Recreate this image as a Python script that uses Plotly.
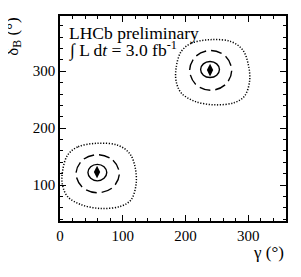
import plotly.graph_objects as go

# Contour points (gamma, delta_B) in degrees
left_dot_x = [59, 28, 12, 4, 4, 12, 33, 65, 97, 113, 121, 120, 111, 92, 59]
left_dot_y = [173.5, 167, 152.5, 124, 100, 80, 66, 59, 63, 74, 100, 129.5, 155.5, 170, 173.5]
right_dot_x = [240, 209, 193, 185, 185, 193, 214, 246, 278, 294, 302, 300, 291, 272.5, 240]
right_dot_y = [355.5, 349, 334.5, 306, 282.5, 262, 247.5, 241, 245, 256.5, 282.5, 311.5, 337.5, 352, 355.5]

left_dash_x = [60, 84.4, 94.5, 84.4, 60, 35.6, 25.5, 35.6, 60]
left_dash_y = [153.5, 143.7, 120, 96.3, 86.5, 96.3, 120, 143.7, 153.5]
right_dash_x = [240, 263.7, 273.5, 263.7, 240, 216.3, 206.5, 216.3, 240]
right_dash_y = [336.5, 326.2, 301.5, 276.8, 266.5, 276.8, 301.5, 326.2, 336.5]

left_solid_x = [59.5, 70.1, 74.5, 70.1, 59.5, 48.9, 44.5, 48.9, 59.5]
left_solid_y = [136.5, 132.1, 122, 111.9, 107.5, 111.9, 122, 132.1, 136.5]
right_solid_x = [239, 249.6, 254, 249.6, 239, 228.4, 224, 228.4, 239]
right_solid_y = [317, 312.9, 303, 293.1, 289, 293.1, 303, 312.9, 317]

best_x = [59, 239]
best_y = [123, 302]

x_range = [0, 360]
y_range = [37, 397]
x_ticks = [0, 100, 200, 300]
y_ticks = [100, 200, 300]

FONT = "Liberation Serif"

fig = go.Figure()

def add_curve(xs, ys, dash, width):
    fig.add_trace(go.Scatter(x=xs, y=ys, mode="lines",
                             line=dict(color="black", width=width, dash=dash, shape="spline", smoothing=1.0),
                             hoverinfo="skip", showlegend=False))

add_curve(left_dot_x, left_dot_y, "1.2px,1.6px", 1.5)
add_curve(right_dot_x, right_dot_y, "1.2px,1.6px", 1.5)
add_curve(left_dash_x, left_dash_y, "11px,5px", 1.4)
add_curve(right_dash_x, right_dash_y, "11px,5px", 1.4)
add_curve(left_solid_x, left_solid_y, "solid", 1.4)
add_curve(right_solid_x, right_solid_y, "solid", 1.4)

fig.add_trace(go.Scatter(x=best_x, y=best_y, mode="markers",
                         marker=dict(symbol="diamond-tall", size=9, color="black"),
                         showlegend=False, hoverinfo="skip"))

axis_common = dict(
    showgrid=False, zeroline=False,
    showline=True, linecolor="black", linewidth=1.5, mirror="ticks",
    ticks="inside", ticklen=6, tickwidth=1, tickcolor="black",
    tickfont=dict(family=FONT, size=15, color="black"),
    minor=dict(ticks="inside", ticklen=3, tickwidth=1, tickcolor="black", dtick=20, showgrid=False),
)

fig.update_xaxes(range=x_range, tickvals=x_ticks, **axis_common)
fig.update_yaxes(range=y_range, tickvals=y_ticks, **axis_common)

fig.update_layout(
    width=293, height=269,
    margin=dict(l=52, r=15, t=6, b=56),
    paper_bgcolor="white", plot_bgcolor="white",
    showlegend=False,
    annotations=[
        dict(text="γ (°)", xref="paper", yref="paper", x=0.998, y=-0.155,
             xanchor="right", yanchor="middle", showarrow=False,
             font=dict(family=FONT, size=17, color="black")),
        dict(text="δ<sub>B</sub> (°)", xref="paper", yref="paper", x=-0.205, y=1.0,
             xanchor="center", yanchor="top", textangle=-90, showarrow=False,
             font=dict(family=FONT, size=17, color="black")),
        dict(text="LHCb preliminary", xref="paper", yref="paper", x=0.03, y=0.918,
             xanchor="left", yanchor="middle", showarrow=False,
             font=dict(family=FONT, size=17.5, color="black")),
        dict(text="∫ L d<i>t</i> = 3.0 fb<sup>-1</sup>", xref="paper", yref="paper", x=0.03, y=0.836,
             xanchor="left", yanchor="middle", showarrow=False,
             font=dict(family=FONT, size=17.5, color="black")),
    ],
)

fig.write_html("out.html")
